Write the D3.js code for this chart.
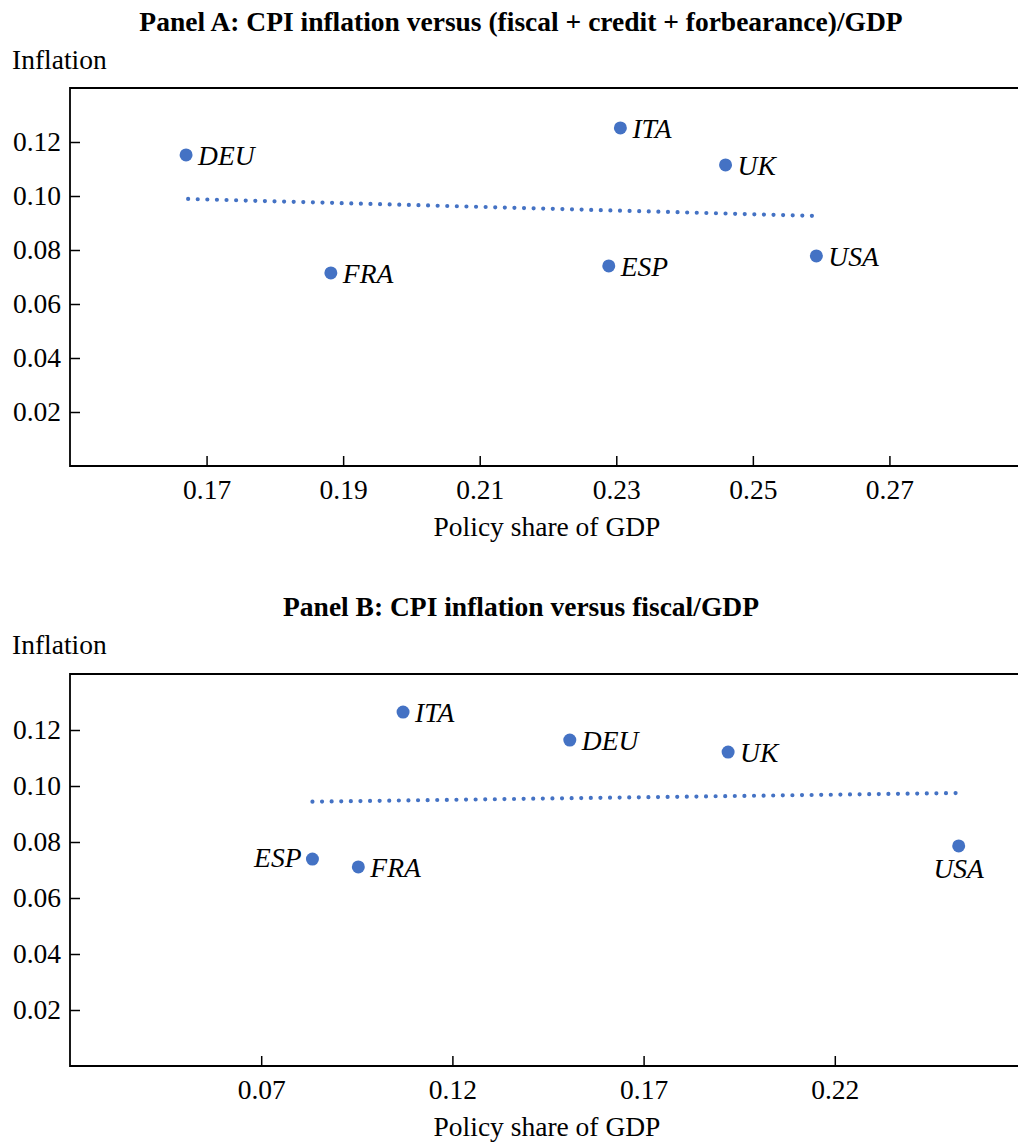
<!DOCTYPE html>
<html>
<head>
<meta charset="utf-8">
<script src="https://cdn.jsdelivr.net/npm/d3@7"></script>
<style>
  body { margin: 0; background: #fff; }
  svg { display: block; }
</style>
</head>
<body>
<script>
// Country codes, same order in both panels
const countries = ["DEU", "FRA", "ESP", "ITA", "UK", "USA"];

// Panel A: (fiscal + credit + forbearance)/GDP
const policyA = [0.1670, 0.1882, 0.2289, 0.2306, 0.2460, 0.2593];
const inflationA = [0.1152, 0.0715, 0.0741, 0.1252, 0.1115, 0.0778];
const fitA = [[0.1673, 0.0989], [0.2593, 0.0926]];
const xTicksA = [0.17, 0.19, 0.21, 0.23, 0.25, 0.27];

// Panel B: fiscal/GDP
const policyB = [0.1507, 0.0954, 0.0834, 0.1071, 0.1921, 0.2524];
const inflationB = [0.1164, 0.0711, 0.0739, 0.1264, 0.1121, 0.0786];
const fitB = [[0.0834, 0.0944], [0.2527, 0.0975]];
const xTicksB = [0.07, 0.12, 0.17, 0.22];

const yTicks = [0.02, 0.04, 0.06, 0.08, 0.10, 0.12];

const width = 1018, height = 1143;
const blue = "#4472C4";
const font = "'Liberation Serif', 'Times New Roman', serif";
const fontSize = 27.5;

const svg = d3.select("body").append("svg")
  .attr("width", width)
  .attr("height", height)
  .attr("font-family", font);

function drawPanel({
  title, titleY, top, bottom,
  xDomain, xTicks, xs, ys, fit,
  place = {}, // label placement per country: "right" (default), "left", "below"
  left = 70, right = 1026,
}) {
  const x = d3.scaleLinear(xDomain, [left, right]);
  const y = d3.scaleLinear([0, 0.14], [bottom, top]);
  const g = svg.append("g");

  g.append("text")
    .attr("x", 521)
    .attr("y", titleY)
    .attr("text-anchor", "middle")
    .attr("font-weight", "bold")
    .attr("font-size", 27.5)
    .text(title);

  g.append("text")
    .attr("x", 12)
    .attr("y", titleY + 38)
    .attr("font-size", fontSize)
    .text("Inflation");

  // y axis, ticks pointing inward
  g.append("g")
    .attr("transform", `translate(${left},0)`)
    .call(d3.axisLeft(y).tickValues(yTicks).tickFormat(d3.format(".2f"))
      .tickSizeInner(-10).tickSizeOuter(0).tickPadding(9))
    .call(g => g.select(".domain").remove())
    .call(g => g.selectAll(".tick line").attr("stroke-width", 1.5))
    .call(g => g.selectAll(".tick text")
      .attr("font-size", fontSize).attr("font-family", font).attr("fill", "#000"));

  // x axis
  g.append("g")
    .attr("transform", `translate(0,${bottom})`)
    .call(d3.axisBottom(x).tickValues(xTicks).tickFormat(d3.format(".2f"))
      .tickSizeInner(-10).tickSizeOuter(0).tickPadding(13))
    .call(g => g.select(".domain").remove())
    .call(g => g.selectAll(".tick line").attr("stroke-width", 1.5))
    .call(g => g.selectAll(".tick text")
      .attr("font-size", fontSize).attr("font-family", font).attr("fill", "#000"));

  g.append("text")
    .attr("x", (left + 1026) / 2 - 1)
    .attr("y", bottom + 70)
    .attr("text-anchor", "middle")
    .attr("font-size", fontSize)
    .text("Policy share of GDP");

  // frame (right side falls just outside the picture)
  g.append("path")
    .attr("fill", "none")
    .attr("stroke", "#000")
    .attr("stroke-width", 1.8)
    .attr("d", `M${right},${top}H${left}V${bottom}H${right}`);

  // fitted line, dotted
  g.append("path")
    .datum(fit)
    .attr("fill", "none")
    .attr("stroke", blue)
    .attr("stroke-width", 4.2)
    .attr("stroke-linecap", "round")
    .attr("stroke-dasharray", "0 9.6")
    .attr("d", d3.line().x(d => x(d[0])).y(d => y(d[1])));

  const pts = g.append("g")
    .selectAll("g")
    .data(d3.range(countries.length))
    .join("g")
    .attr("transform", i => `translate(${x(xs[i])},${y(ys[i])})`);

  pts.append("circle")
    .attr("r", 6.5)
    .attr("fill", blue);

  pts.append("text")
    .attr("font-style", "italic")
    .attr("font-size", fontSize)
    .each(function (i) {
      const p = place[countries[i]] || "right";
      const t = d3.select(this);
      if (p === "left") t.attr("x", -11).attr("y", 8).attr("text-anchor", "end");
      else if (p === "below") t.attr("x", 0).attr("y", 32).attr("text-anchor", "middle");
      else t.attr("x", 12).attr("y", 10);
    })
    .text(i => countries[i]);
}

drawPanel({
  title: "Panel A: CPI inflation versus (fiscal + credit + forbearance)/GDP",
  titleY: 31, top: 88, bottom: 466,
  xDomain: [0.15, 0.29], xTicks: xTicksA,
  xs: policyA, ys: inflationA, fit: fitA,
});

drawPanel({
  title: "Panel B: CPI inflation versus fiscal/GDP",
  titleY: 616, top: 674, bottom: 1066,
  xDomain: [0.02, 0.27], xTicks: xTicksB,
  xs: policyB, ys: inflationB, fit: fitB,
  place: { ESP: "left", USA: "below" },
});
</script>
</body>
</html>
